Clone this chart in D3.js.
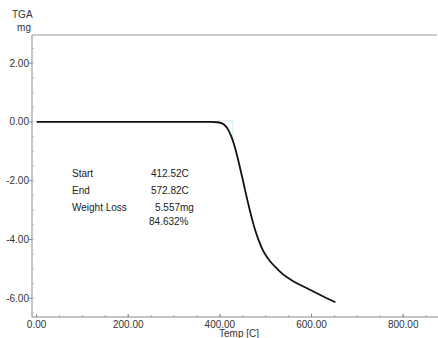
<!DOCTYPE html>
<html>
<head>
<meta charset="utf-8">
<style>
body { margin:0; background:#ffffff; }
.lbl { font-family: Arial, "Liberation Sans", sans-serif; font-size:10px; fill:#333; }
.ann { font-family: Arial, "Liberation Sans", sans-serif; font-size:10px; fill:#222; }
</style>
<script src="https://d3js.org/d3.v7.min.js"></script>
</head>
<body>
<script>

// TGA curve, temperature (C) vs mass change (mg)
var temps  = [0, 100, 200, 300, 380, 395, 405, 412, 418, 424, 430, 436, 442, 448, 454, 460, 466, 472, 478, 486, 494, 502, 510, 525, 538, 560, 590, 620, 652];
var masses = [0, 0, 0, 0, 0, -0.01, -0.05, -0.13, -0.26, -0.46, -0.72, -1.05, -1.43, -1.83, -2.25, -2.66, -3.05, -3.41, -3.73, -4.08, -4.37, -4.58, -4.75, -5.0, -5.19, -5.42, -5.66, -5.9, -6.14];

var xTicks = [0, 200, 400, 600, 800];
var yTicks = [2, 0, -2, -4, -6];
var annLabels = ["Start", "End", "Weight Loss", ""];
var annValues = ["412.52C", "572.82C", "5.557mg", "84.632%"];

var width = 438, height = 338;

var svg = d3.select("body").append("svg")
    .attr("width", width)
    .attr("height", height);

var x = d3.scaleLinear().domain([-10, 876]).range([32, 438]);
var y = d3.scaleLinear().domain([-6.64, 2.96]).range([317, 35]);

// x axis
var xAxis = svg.append("g").attr("transform", "translate(0,317)");
xAxis.append("line").attr("x1", 32).attr("x2", 438).attr("stroke", "#8a8a8a");
xAxis.selectAll(".minor").data(d3.range(0, 876, 50)).enter().append("line")
    .attr("x1", d => x(d)).attr("x2", d => x(d))
    .attr("y1", 0).attr("y2", -2).attr("stroke", "#aaa");
xAxis.selectAll(".major").data(xTicks).enter().append("line")
    .attr("x1", d => x(d)).attr("x2", d => x(d))
    .attr("y1", -3).attr("y2", 0).attr("stroke", "#888");
xAxis.selectAll("text").data(xTicks).enter().append("text")
    .attr("class", "lbl")
    .attr("x", d => x(d)).attr("y", 11)
    .attr("text-anchor", "middle")
    .text(d => d.toFixed(2));

svg.append("text").attr("class", "lbl")
    .attr("x", 239).attr("y", 337)
    .attr("text-anchor", "middle")
    .text("Temp  [C]");

// y axis
var yAxis = svg.append("g").attr("transform", "translate(32,0)");
yAxis.append("line").attr("y1", 35).attr("y2", 317).attr("stroke", "#8a8a8a");
yAxis.selectAll(".minor").data(d3.range(-6.5, 3, 0.5)).enter().append("line")
    .attr("y1", d => y(d)).attr("y2", d => y(d))
    .attr("x1", 0).attr("x2", 2).attr("stroke", "#bbb");
yAxis.selectAll(".major").data(yTicks).enter().append("line")
    .attr("y1", d => y(d)).attr("y2", d => y(d))
    .attr("x1", -3).attr("x2", 0).attr("stroke", "#888");
yAxis.selectAll("text").data(yTicks).enter().append("text")
    .attr("class", "lbl")
    .attr("x", -3).attr("y", d => y(d) + 3.5)
    .attr("text-anchor", "end")
    .text(d => d.toFixed(2));

// top border
svg.append("line").attr("x1", 32).attr("x2", 437)
    .attr("y1", 35).attr("y2", 35).attr("stroke", "#999");

svg.append("text").attr("class", "lbl").attr("x", 12).attr("y", 18).text("TGA");
svg.append("text").attr("class", "lbl").attr("x", 31).attr("y", 31)
    .attr("text-anchor", "end").text("mg");

// faint onset marker
svg.append("path")
    .attr("d", "M" + x(395) + "," + y(0.04) + "H" + x(428) + "V" + y(-0.6))
    .attr("fill", "none").attr("stroke", "#cfeef0").attr("stroke-width", 1);

// curve
var line = d3.line()
    .x((d, i) => x(temps[i]))
    .y(d => y(d))
    .curve(d3.curveMonotoneX);

svg.append("path")
    .datum(masses)
    .attr("d", line)
    .attr("fill", "none")
    .attr("stroke", "#111")
    .attr("stroke-width", 1.8);

// annotation block
var ann = svg.append("g");
ann.selectAll(".k").data(annLabels).enter().append("text")
    .attr("class", "ann")
    .attr("x", 72).attr("y", (d, i) => 177 + i * 17 - (i == 3 ? 3 : 0))
    .text(d => d);
ann.selectAll(".v").data(annValues).enter().append("text")
    .attr("class", "ann")
    .attr("x", (d, i) => i == 2 ? 155 : (i == 3 ? 149 : 151))
    .attr("y", (d, i) => 177 + i * 17 - (i == 3 ? 3 : 0))
    .text(d => d);

</script>
</body>
</html>
